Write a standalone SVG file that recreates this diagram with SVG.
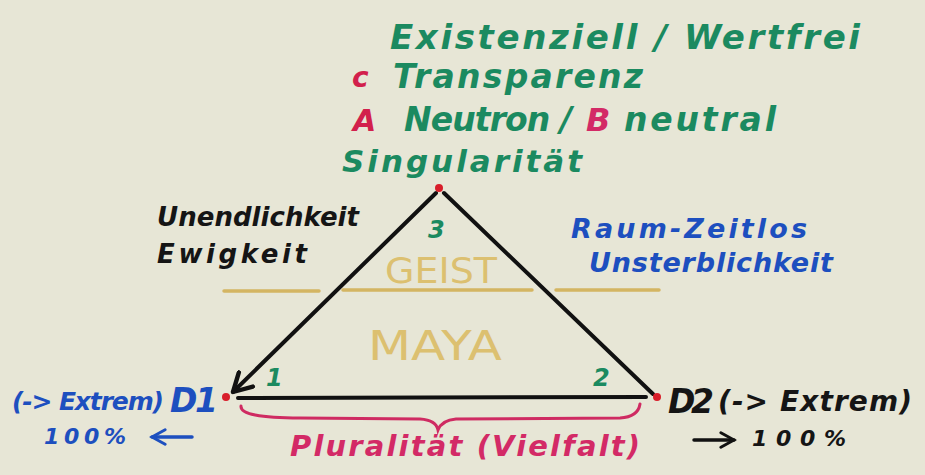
<svg xmlns="http://www.w3.org/2000/svg" width="925" height="475" viewBox="0 0 925 475">
<defs>
<marker id="arrowOpen" viewBox="0 0 12 12" refX="10" refY="6" markerWidth="6" markerHeight="6" orient="auto" markerUnits="strokeWidth">
<path d="M1,1 L10,6 L1,11" fill="none" stroke="#111" stroke-width="2.2" stroke-linecap="round" stroke-linejoin="round"/>
</marker>
<marker id="arrowBlue" viewBox="0 0 12 12" refX="10" refY="6" markerWidth="5" markerHeight="5" orient="auto" markerUnits="strokeWidth">
<path d="M1,1 L10,6 L1,11" fill="none" stroke="#1d4fbf" stroke-width="2" stroke-linecap="round"/>
</marker>
<marker id="arrowBlack" viewBox="0 0 12 12" refX="10" refY="6" markerWidth="5" markerHeight="5" orient="auto" markerUnits="strokeWidth">
<path d="M1,1 L10,6 L1,11" fill="none" stroke="#111" stroke-width="2" stroke-linecap="round"/>
</marker>
</defs>
<style>
text{font-family:"DejaVu Sans","Noto Sans",sans-serif;font-weight:bold;font-style:italic}
.g{fill:#1b8a60}
.r{fill:#d2204c}
.p{fill:#d32a66}
.b{fill:#1d4fbf}
.k{fill:#151515}
.t{fill:#dcc070;font-style:normal;font-weight:normal}
.edge{stroke:#111;stroke-width:4;stroke-linecap:round;fill:none}
.dot{fill:#d81e2a}
.tan{stroke:#d4b562;stroke-width:3.5;stroke-linecap:round}
</style>
<rect width="925" height="475" fill="#e7e6d6"/>

<g id="connectors">
<line class="edge" x1="436" y1="193" x2="233" y2="392" marker-end="url(#arrowOpen)"/>
<line class="edge" x1="444" y1="193" x2="653" y2="394"/>
<line class="edge" x1="238" y1="398" x2="646" y2="397"/>
<line class="tan" x1="224" y1="291" x2="319" y2="291"/>
<line class="tan" x1="343" y1="290" x2="532" y2="290"/>
<line class="tan" x1="556" y1="290" x2="659" y2="290"/>
<path d="M241,406 Q240,418 300,418 L420,419 Q436,420 438,430 Q442,420 456,419 L620,418 Q638,417 640,404" fill="none" stroke="#cf2b62" stroke-width="3" stroke-linecap="round"/>
</g>

<g id="top-labels">
<text class="g" x="390" y="49" font-size="34" textLength="470" lengthAdjust="spacing">Existenziell / Wertfrei</text>
<text class="r" x="352" y="87" font-size="28" font-style="normal" font-weight="normal">c</text>
<text class="g" x="393" y="88" font-size="33" textLength="250" lengthAdjust="spacing">Transparenz</text>
<text class="r" x="353" y="131" font-size="30" font-weight="normal">A</text>
<text class="g" x="404" y="131" font-size="33" textLength="168" lengthAdjust="spacing">Neutron /</text>
<text class="p" x="586" y="131" font-size="32" font-weight="normal" font-style="normal">B</text>
<text class="g" x="624" y="131" font-size="33" textLength="152" lengthAdjust="spacing">neutral</text>
</g>

<g id="node-top">
<text class="g" x="342" y="172" font-size="31" textLength="240" lengthAdjust="spacing">Singularität</text>
<circle class="dot" cx="439" cy="188" r="4"/>
<text class="g" x="428" y="238" font-size="24" font-style="normal">3</text>
</g>

<g id="label-left">
<text class="k" x="157" y="226" font-size="26" textLength="202" lengthAdjust="spacing">Unendlichkeit</text>
<text class="k" x="157" y="263" font-size="26" textLength="150" lengthAdjust="spacing">Ewigkeit</text>
</g>

<g id="label-right">
<text class="b" x="571" y="238" font-size="27" font-weight="normal" textLength="236" lengthAdjust="spacing">Raum-Zeitlos</text>
<text class="b" x="589" y="272" font-size="27" font-weight="normal" textLength="244" lengthAdjust="spacing">Unsterblichkeit</text>
</g>

<g id="zone-geist">
<text class="t" x="385" y="283" font-size="36" textLength="112" lengthAdjust="spacingAndGlyphs">GEIST</text>
</g>
<g id="zone-maya">
<text class="t" x="368" y="360" font-size="40" textLength="134" lengthAdjust="spacingAndGlyphs">MAYA</text>
</g>

<g id="node-d1">
<circle class="dot" cx="226" cy="397" r="4"/>
<text class="g" x="266" y="386" font-size="24" font-style="normal">1</text>
<text class="b" x="12" y="410" font-size="25" font-weight="normal" textLength="152" lengthAdjust="spacing">(-&gt; Extrem)</text>
<text class="b" x="170" y="412" font-size="33" font-style="normal" textLength="48" lengthAdjust="spacing">D1</text>
<text class="b" x="44" y="444" font-size="22" textLength="82" lengthAdjust="spacing">100%</text>
<line x1="192" y1="437" x2="152" y2="437" stroke="#1d4fbf" stroke-width="3.5" stroke-linecap="round" marker-end="url(#arrowBlue)"/>
</g>

<g id="node-d2">
<circle class="dot" cx="657" cy="397" r="4"/>
<text class="g" x="593" y="386" font-size="24" font-style="normal">2</text>
<text class="k" x="668" y="413" font-size="33" font-style="normal" textLength="46" lengthAdjust="spacing">D2</text>
<text class="k" x="718" y="411" font-size="28" textLength="194" lengthAdjust="spacing">(-&gt; Extrem)</text>
<line x1="694" y1="440" x2="734" y2="440" stroke="#111" stroke-width="3.5" stroke-linecap="round" marker-end="url(#arrowBlack)"/>
<text class="k" x="752" y="446" font-size="22" textLength="94" lengthAdjust="spacing">100%</text>
</g>

<g id="label-bottom">
<text class="p" x="290" y="456" font-size="29" font-weight="normal" textLength="350" lengthAdjust="spacing">Pluralität (Vielfalt)</text>
</g>
</svg>
